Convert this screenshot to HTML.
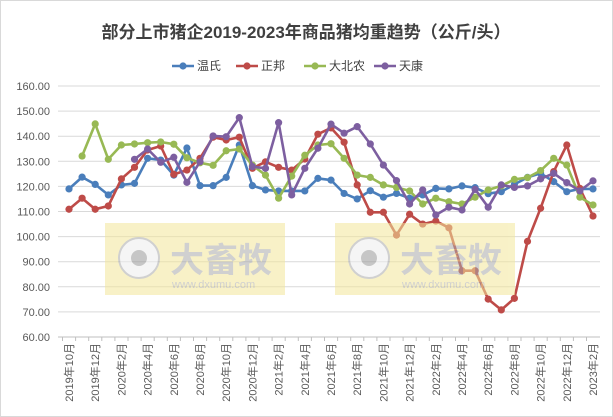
<!DOCTYPE html>
<html><head><meta charset="utf-8"><style>
body{margin:0;background:#fff;}
svg{display:block;font-family:"Liberation Sans","Noto Sans CJK SC",sans-serif;}
</style></head><body>
<svg id="c" width="613" height="417">
<rect x="0.5" y="0.5" width="612" height="416" fill="#fff" stroke="#d9d9d9"/>
<text x="306" y="38" text-anchor="middle" font-size="17" font-weight="bold" fill="#404040">部分上市猪企2019-2023年商品猪均重趋势（公斤/头）</text>
<g id="grid"></g>
<g id="yax"></g>
<g id="xax"></g>
<g id="series"></g>
<g id="legend"></g>
<g opacity="0.55">
<rect x="105" y="223" width="180" height="72" fill="#f3e79a"/>
<rect x="335" y="223" width="180" height="72" fill="#f3e79a"/>
<circle cx="139" cy="258" r="20" fill="#eee" stroke="#aaa" stroke-width="2"/><circle cx="139" cy="258" r="8" fill="#999"/>
<circle cx="369" cy="258" r="20" fill="#eee" stroke="#aaa" stroke-width="2"/><circle cx="369" cy="258" r="8" fill="#999"/>
<text x="170" y="272" font-size="34" font-weight="bold" fill="#aaa">大畜牧</text>
<text x="400" y="272" font-size="34" font-weight="bold" fill="#aaa">大畜牧</text>
<text x="172" y="288" font-size="11" fill="#aaa">www.dxumu.com</text>
<text x="402" y="288" font-size="11" fill="#aaa">www.dxumu.com</text>
</g>
</svg>
<script>
const yTicks=[60,70,80,90,100,110,120,130,140,150,160];
const months=[];
for(let y=2019,m=10;months.length<41;){months.push(y+'年'+m+'月');m++;if(m>12){m=1;y++;}}
const seriesNames=['温氏','正邦','大北农','天康'];
const wens=[119,123.7,120.8,116.6,120.6,121.2,131.2,130.5,124.5,135.3,120.3,120.3,123.6,136.5,120.3,118.6,118.2,118.2,118.2,123.2,122.5,117.2,115,118.3,115.7,117.2,115.3,116.6,119.2,119,120.2,119.5,117.1,117.9,120.8,123.6,125.2,121.9,117.9,119,119];
const zhengbang=[110.9,115.3,110.9,112.2,123,127.6,134.5,136.1,124.8,126.5,131.2,139.6,138.5,139.6,127.2,129.8,127.6,126.5,130.9,140.8,143.3,137.6,120.6,109.7,109.7,100.6,108.9,105,106.2,103.5,86.4,86.4,75.1,70.8,75.4,98.1,111.3,125.9,136.5,119.2,108.2];
const dabeinong=[null,132.1,144.9,130.8,136.5,136.9,137.4,137.7,136.8,131.4,129.4,128.4,134.2,134.9,128.5,124.5,115.3,124.1,132.4,136.5,137,131.2,124.5,123.6,120.6,119.6,118.2,113,115.3,113.9,113,115.7,118.6,120.2,122.8,123.5,126.3,131.2,128.5,115.7,112.6];
const tiankang=[null,null,null,null,null,130.8,134.9,129.6,131.6,121.6,129.8,140.1,139.8,147.4,127.9,127.2,145.4,116.6,127.2,135.2,144.8,141.2,143.8,136.9,128.5,122.3,113,118.6,108.6,111.7,110.6,118.8,111.7,120.6,119.6,120.2,123,125.2,121.5,118.2,122.2];
const colors=['#4a7ebb','#be4b48','#98b954','#7d5fa0'];
const NS='http://www.w3.org/2000/svg';
function mk(t,a,p){const e=document.createElementNS(NS,t);for(const k in a)e.setAttribute(k,a[k]);p.appendChild(e);return e;}
const x0=69,x1=593,yb=337,yt=86;
const xs=i=>x0+(x1-x0)*i/(months.length-1);
const ys=v=>yb-(v-60)/(160-60)*(yb-yt);
const grid=document.getElementById('grid'),yax=document.getElementById('yax'),xax=document.getElementById('xax');
yTicks.forEach(v=>{
 const l=mk('line',{x1:58,x2:600,y1:ys(v),y2:ys(v),stroke:v===60?'#bfbfbf':'#d9d9d9','stroke-width':1},grid);
 
 
 const t=mk('text',{x:50,y:ys(v)+4,'text-anchor':'end','font-size':11,fill:'#595959'},yax);
 t.textContent=v.toFixed(2);
 
 
});
months.forEach((m,i)=>{
 const tk=mk('line',{x1:xs(i)-6.5,x2:xs(i)-6.5,y1:yb,y2:yb+4,stroke:'#bfbfbf'},xax);
 
 
 if(i%2===0){
  const t=mk('text',{x:0,y:0,'text-anchor':'end','font-size':11,fill:'#595959',transform:`translate(${xs(i)+4},${yb+6}) rotate(-90)`},xax);
  t.textContent=m;
  
  
 }
});
const sg=document.getElementById('series');
[wens,zhengbang,dabeinong,tiankang].forEach((d,s)=>{
 const g=mk('g',{},sg);
 
 
 let p='';d.forEach((v,i)=>{if(v!=null)p+=(p?'L':'M')+xs(i).toFixed(1)+','+ys(v).toFixed(1);});
 const path=mk('path',{d:p,fill:'none',stroke:colors[s],'stroke-width':2.6,'stroke-linejoin':'round'},g);
 
 
 d.forEach((v,i)=>{if(v==null)return;
  const c=mk('circle',{cx:xs(i),cy:ys(v),r:3.6,fill:colors[s]},g);
  
  
 });
});
const lg=document.getElementById('legend');
const lx=[172,236,304,374];
seriesNames.forEach((n,s)=>{
 const g=mk('g',{},lg);
 
 
 mk('line',{x1:lx[s],x2:lx[s]+22,y1:66,y2:66,stroke:colors[s],'stroke-width':2.6},g);
 mk('circle',{cx:lx[s]+11,cy:66,r:3.6,fill:colors[s]},g);
 const t=mk('text',{x:lx[s]+25,y:70,'font-size':12,fill:'#404040'},g);
 t.textContent=n;
});
</script>
</body></html>
